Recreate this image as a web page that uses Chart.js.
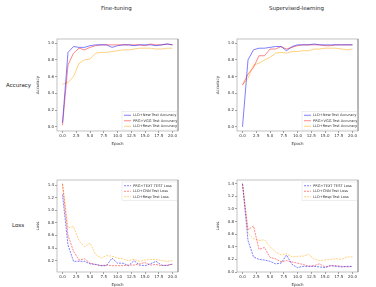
<!DOCTYPE html>
<html>
<head>
<meta charset="utf-8">
<script src="https://cdn.jsdelivr.net/npm/chart.js@4.4.0/dist/chart.umd.min.js"></script>
<style>
    body { margin: 0; background: #fff; font-family: "DejaVu Sans", sans-serif; }
    #page { position: relative; width: 376px; height: 287px; overflow: hidden; }
    .box { position: absolute; width: 150px; height: 112px; }
    .lbl { position: absolute; font-size: 5.5px; color: #222; white-space: nowrap; }
</style>
</head>
<body>
<div id="page">
    <div class="lbl" style="left:101px;top:5px;">Fine-tuning</div>
    <div class="lbl" style="left:269px;top:5px;">Supervised-learning</div>
    <div class="lbl" style="left:6px;top:82px;">Accuracy</div>
    <div class="lbl" style="left:12px;top:222px;">Loss</div>
    <div class="box" style="left:36px;top:34px;"><canvas id="ftAcc"></canvas></div>
    <div class="box" style="left:216px;top:34px;"><canvas id="slAcc"></canvas></div>
    <div class="box" style="left:36px;top:175px;"><canvas id="ftLoss"></canvas></div>
    <div class="box" style="left:216px;top:175px;"><canvas id="slLoss"></canvas></div>
</div>
<script>
const EPOCHS = [0, 1, 2, 3, 4, 5, 6, 7, 8, 9, 10, 11, 12, 13, 14, 15, 16, 17, 18, 19, 20];
const EPOCH_TICKS = [0, 2.5, 5, 7.5, 10, 12.5, 15, 17.5, 20];
const ACC_TICKS = [0, 0.2, 0.4, 0.6, 0.8, 1.0];
const FT_LOSS_TICKS = [0.2, 0.4, 0.6, 0.8, 1.0, 1.2, 1.4];
const SL_LOSS_TICKS = [0.0, 0.2, 0.4, 0.6, 0.8, 1.0, 1.2, 1.4];

const ACC_LABELS = ['LLD+New Test Accuracy', 'PRG+VGG Test Accuracy', 'LLD+Resn Test Accuracy'];
const LOSS_LABELS = ['PRG+TEXT TEST Loss', 'LLD+CNN Test Loss', 'LLD+Resp Test Loss'];

// fine-tuning
const FT_ACC_NEW  = [0.05, 0.89, 0.96, 0.95, 0.95, 0.97, 0.98, 0.98, 0.98, 0.95, 0.97, 0.98, 0.98, 0.97, 0.98, 0.98, 0.98, 0.97, 0.98, 0.99, 0.98];
const FT_ACC_VGG  = [0.02, 0.74, 0.88, 0.94, 0.92, 0.95, 0.97, 0.98, 0.98, 0.98, 0.98, 0.98, 0.98, 0.98, 0.98, 0.97, 0.99, 0.98, 0.98, 0.99, 0.98];
const FT_ACC_RESN = [0.51, 0.53, 0.60, 0.76, 0.80, 0.81, 0.88, 0.89, 0.89, 0.90, 0.91, 0.92, 0.92, 0.93, 0.94, 0.94, 0.94, 0.93, 0.93, 0.94, 0.94];
const FT_LOSS_TEXT = [1.25, 0.45, 0.19, 0.19, 0.19, 0.15, 0.14, 0.12, 0.12, 0.24, 0.16, 0.16, 0.12, 0.20, 0.13, 0.12, 0.15, 0.19, 0.13, 0.12, 0.15];
const FT_LOSS_CNN  = [1.42, 0.60, 0.35, 0.21, 0.23, 0.16, 0.14, 0.12, 0.13, 0.12, 0.12, 0.12, 0.13, 0.13, 0.15, 0.17, 0.13, 0.14, 0.12, 0.13, 0.14];
const FT_LOSS_RESP = [1.42, 0.72, 0.74, 0.52, 0.42, 0.48, 0.30, 0.24, 0.28, 0.27, 0.24, 0.23, 0.20, 0.22, 0.19, 0.21, 0.22, 0.22, 0.20, 0.19, 0.20];

// supervised-learning
const SL_ACC_NEW  = [0.00, 0.80, 0.92, 0.94, 0.94, 0.95, 0.96, 0.96, 0.91, 0.96, 0.98, 0.98, 0.98, 0.99, 0.98, 0.98, 0.98, 0.98, 0.98, 0.98, 0.98];
const SL_ACC_VGG  = [0.50, 0.63, 0.71, 0.85, 0.85, 0.93, 0.93, 0.96, 0.93, 0.95, 0.97, 0.98, 0.98, 0.98, 0.98, 0.97, 0.97, 0.98, 0.98, 0.98, 0.98];
const SL_ACC_RESN = [0.50, 0.58, 0.74, 0.76, 0.80, 0.83, 0.88, 0.89, 0.88, 0.90, 0.90, 0.91, 0.91, 0.93, 0.93, 0.94, 0.94, 0.94, 0.93, 0.92, 0.93];
const SL_LOSS_TEXT = [1.40, 0.50, 0.24, 0.20, 0.19, 0.17, 0.13, 0.14, 0.27, 0.12, 0.07, 0.09, 0.09, 0.09, 0.08, 0.07, 0.10, 0.09, 0.08, 0.09, 0.09];
const SL_LOSS_CNN  = [1.40, 0.67, 0.73, 0.36, 0.39, 0.23, 0.21, 0.16, 0.18, 0.16, 0.14, 0.12, 0.09, 0.10, 0.13, 0.08, 0.10, 0.10, 0.09, 0.08, 0.09];
const SL_LOSS_RESP = [1.40, 0.61, 0.53, 0.50, 0.51, 0.40, 0.32, 0.27, 0.29, 0.24, 0.25, 0.25, 0.28, 0.21, 0.18, 0.19, 0.20, 0.21, 0.20, 0.24, 0.24];

const COLORS = ['rgba(40, 40, 255, 0.75)', 'rgba(255, 40, 40, 0.7)', 'rgba(255, 175, 30, 0.7)'];
const FONT = { family: 'DejaVu Sans', size: 4 };

// matplotlib-like frame and an in-plot legend
const framePlugin = {
    id: 'frame',
    afterDraw(chart, args, opts) {
        const { ctx, chartArea: a } = chart;
        ctx.save();
        ctx.lineWidth = 0.6;
        ctx.strokeStyle = '#999';
        ctx.strokeRect(a.left, a.top, a.right - a.left, a.bottom - a.top);
        ctx.strokeStyle = '#555';
        ctx.beginPath();
        ctx.moveTo(a.right, a.top);
        ctx.lineTo(a.right, a.bottom);
        ctx.stroke();

        const sets = chart.data.datasets;
        const rowH = 5.5, w = 55, h = rowH * sets.length + 2;
        const x = a.right - w - 1;
        const y = opts.pos === 'top' ? a.top + 2 : a.bottom - h - 1;
        ctx.fillStyle = 'rgba(255,255,255,0.9)';
        ctx.fillRect(x, y, w, h);
        ctx.strokeStyle = '#ddd';
        ctx.lineWidth = 0.5;
        ctx.strokeRect(x, y, w, h);
        ctx.font = '3.6px "DejaVu Sans"';
        ctx.textBaseline = 'middle';
        sets.forEach((ds, i) => {
            const cy = y + 1 + rowH * i + rowH / 2;
            ctx.strokeStyle = ds.borderColor;
            ctx.lineWidth = 0.8;
            ctx.setLineDash(ds.borderDash || []);
            ctx.beginPath();
            ctx.moveTo(x + 2, cy);
            ctx.lineTo(x + 9, cy);
            ctx.stroke();
            ctx.setLineDash([]);
            ctx.fillStyle = '#333';
            ctx.fillText(ds.label, x + 11, cy);
        });
        ctx.restore();
    }
};

function makeChart(id, labels, series, yTitle, yMin, yMax, yTicks, legendPos, dashed) {
    const datasets = series.map((vals, i) => ({
        label: labels[i],
        data: EPOCHS.map((e, j) => ({ x: e, y: vals[j] })),
        borderColor: COLORS[i],
        borderWidth: 0.8,
        borderDash: dashed ? [2, 1] : [],
        pointRadius: 0,
        tension: 0
    }));
    const tickGrid = { drawOnChartArea: false, tickLength: 2, color: '#444', lineWidth: 0.5 };

    new Chart(document.getElementById(id), {
        type: 'line',
        data: { datasets },
        plugins: [framePlugin],
        options: {
            responsive: true,
            maintainAspectRatio: false,
            animation: false,
            layout: { padding: { top: 5, right: 8, left: 0, bottom: 0 } },
            plugins: { legend: { display: false }, tooltip: { enabled: false }, frame: { pos: legendPos } },
            scales: {
                x: {
                    type: 'linear', min: -1, max: 21,
                    grid: tickGrid,
                    border: { display: false },
                    afterBuildTicks: s => { s.ticks = EPOCH_TICKS.map(v => ({ value: v })); },
                    afterFit: s => { s.height = 15; },
                    ticks: { font: FONT, color: '#333', padding: 1, maxRotation: 0, callback: v => v.toFixed(1) },
                    title: { display: true, text: 'Epoch', font: FONT, color: '#333', padding: 0 }
                },
                y: {
                    min: yMin, max: yMax,
                    grid: tickGrid,
                    border: { display: false },
                    afterBuildTicks: s => { s.ticks = yTicks.map(v => ({ value: v })); },
                    afterFit: s => { s.width = 21; },
                    ticks: { font: FONT, color: '#333', padding: 1, callback: v => v.toFixed(1) },
                    title: { display: true, text: yTitle, font: FONT, color: '#333', padding: 0 }
                }
            }
        }
    });
}

makeChart('ftAcc', ACC_LABELS, [FT_ACC_NEW, FT_ACC_VGG, FT_ACC_RESN], 'Accuracy', -0.05, 1.05, ACC_TICKS, 'bottom', false);
makeChart('slAcc', ACC_LABELS, [SL_ACC_NEW, SL_ACC_VGG, SL_ACC_RESN], 'Accuracy', -0.05, 1.05, ACC_TICKS, 'bottom', false);
makeChart('ftLoss', LOSS_LABELS, [FT_LOSS_TEXT, FT_LOSS_CNN, FT_LOSS_RESP], 'Loss', 0.02, 1.48, FT_LOSS_TICKS, 'top', true);
makeChart('slLoss', LOSS_LABELS, [SL_LOSS_TEXT, SL_LOSS_CNN, SL_LOSS_RESP], 'Loss', 0.0, 1.46, SL_LOSS_TICKS, 'top', true);
</script>
</body>
</html>
